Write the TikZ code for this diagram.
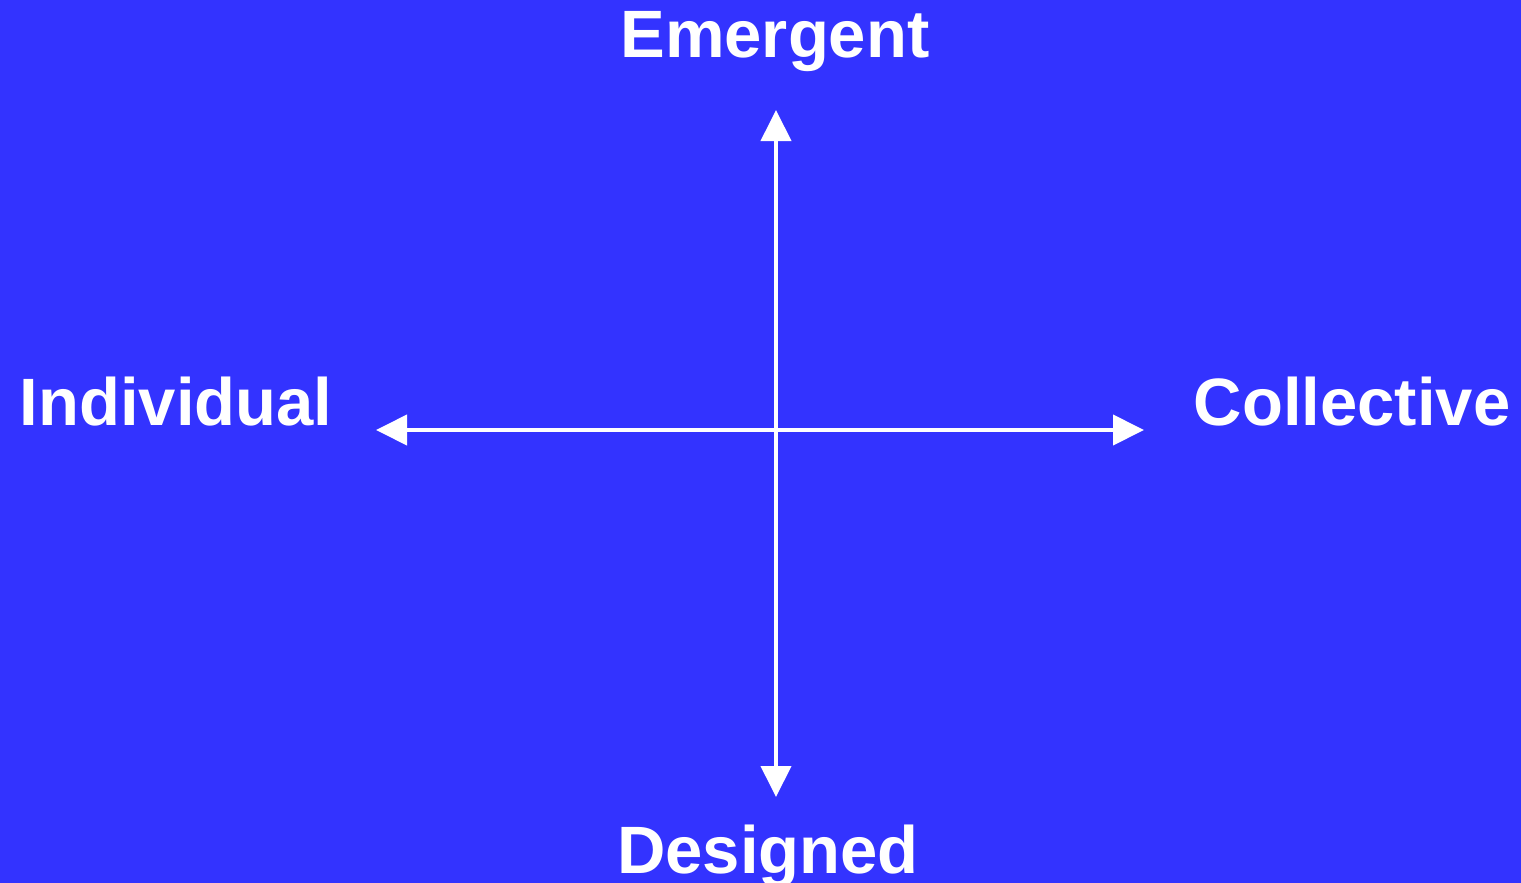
\documentclass[tikz,border=0pt]{standalone}
\usepackage{fontspec}
\setmainfont{Liberation Sans}
\usetikzlibrary{arrows.meta}
\definecolor{bgblue}{HTML}{3333FF}
\tikzset{
  axis/.style={draw=white, line width=4pt, -{Triangle[length=31pt,width=30pt]}},
  lbl/.style={text=white, font=\fontsize{67}{80}\selectfont\bfseries, inner sep=0pt, anchor=base}
}
\begin{document}
\begin{tikzpicture}[x=1pt,y=-1pt]
\fill[bgblue] (0,0) rectangle (1521,883);
\useasboundingbox (0,0) rectangle (1521,883);
\coordinate (c) at (776,430);
\coordinate (top) at (776,110);
\coordinate (bot) at (776,797);
\coordinate (left) at (376,430);
\coordinate (right) at (1144,430);
\draw[axis] (c) -- (top);
\draw[axis] (c) -- (bot);
\draw[axis] (c) -- (left);
\draw[axis] (c) -- (right);
\node[lbl] (em) at (775,58) {Emergent};
\node[lbl] (de) at (768,873) {Designed};
\node[lbl] (in) at (176,425) {Individual};
\node[lbl] (co) at (1352,425) {Collective};
\end{tikzpicture}
\end{document}
